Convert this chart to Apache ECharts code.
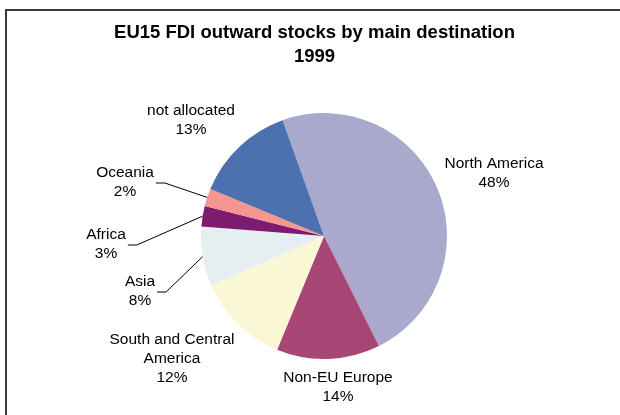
<!DOCTYPE html>
<html>
<head>
<meta charset="utf-8">
<script src="https://cdn.jsdelivr.net/npm/echarts@6/dist/echarts.min.js"></script>
<style>html,body{margin:0;padding:0;background:#fff;}#c{width:620px;height:415px;}</style>
</head>
<body>
<div id="c"></div>
<script>
// Data
var categories = ['North America', 'Non-EU Europe', 'South and Central\nAmerica', 'Asia', 'Africa', 'Oceania', 'not allocated'];
var shares = [48.1, 13.6, 12.2, 7.8, 2.7, 2.3, 13.3];
var sliceColors = ['#A8A9CD', '#A84775', '#FAF7D5', '#E5EFF1', '#7D1B6E', '#F7968E', '#4D71AE'];
var titleLines = ['EU15 FDI outward stocks by main destination', '1999'];

// Layout (label block centres, leader line flags)
var labelPos = [[494, 173], [338, 387], [172, 359], [140, 291], [106, 244], [125, 182], [191, 120]];
var hasLine = [false, false, false, true, true, true, false];

var FONT = '"Liberation Sans", Arial, sans-serif';
var chart = echarts.init(document.getElementById('c'), null, {renderer: 'canvas'});

var data = categories.map(function (n, i) {
  return {
    name: n, value: shares[i],
    itemStyle: {color: sliceColors[i]},
    labelLine: {show: hasLine[i]}
  };
});

chart.setOption({
  animation: false,
  backgroundColor: '#fff',
  title: {
    text: titleLines.join('\n'),
    left: 314.5, top: 21, textAlign: 'center', padding: 0,
    textStyle: {fontFamily: FONT, fontSize: 18.5, fontWeight: 'bold', color: '#000', lineHeight: 24}
  },
  graphic: [{
    type: 'rect', shape: {x: 6, y: 10, width: 1000, height: 1000},
    style: {fill: 'none', stroke: '#3a3a3a', lineWidth: 2}, silent: true
  }],
  series: [{
    type: 'pie',
    center: [324, 236],
    radius: 123,
    startAngle: 109.7,
    clockwise: true,
    avoidLabelOverlap: false,
    data: data,
    itemStyle: {borderWidth: 0},
    label: {
      show: true,
      position: 'outside',
      fontFamily: FONT, fontSize: 15.5, color: '#000', lineHeight: 19,
      align: 'center',
      formatter: function (p) { return p.name + '\n' + Math.round(p.percent) + '%'; }
    },
    labelLine: {show: true, length: 10, length2: 10, lineStyle: {color: '#000', width: 1}},
    labelLayout: function (params) {
      var i = params.dataIndex;
      var pos = labelPos[i];
      var res = {x: pos[0], y: pos[1], align: 'center', verticalAlign: 'middle'};
      if (hasLine[i]) {
        var lr = params.labelRect;
        var rightEdge = pos[0] + lr.width / 2;
        var y = pos[1] + 1;
        var edge = params.labelLinePoints && params.labelLinePoints[0];
        if (!edge) {
          var total = shares.reduce(function (a, b) { return a + b; }, 0);
          var cum = 0;
          for (var k = 0; k < i; k++) cum += shares[k];
          var mid = (109.7 - (cum + shares[i] / 2) / total * 360) * Math.PI / 180;
          edge = [324 + 123 * Math.cos(mid), 236 - 123 * Math.sin(mid)];
        }
        res.labelLinePoints = [[edge[0], edge[1]], [rightEdge + 11, y], [rightEdge + 2, y]];
      }
      return res;
    }
  }]
});
</script>
</body>
</html>
